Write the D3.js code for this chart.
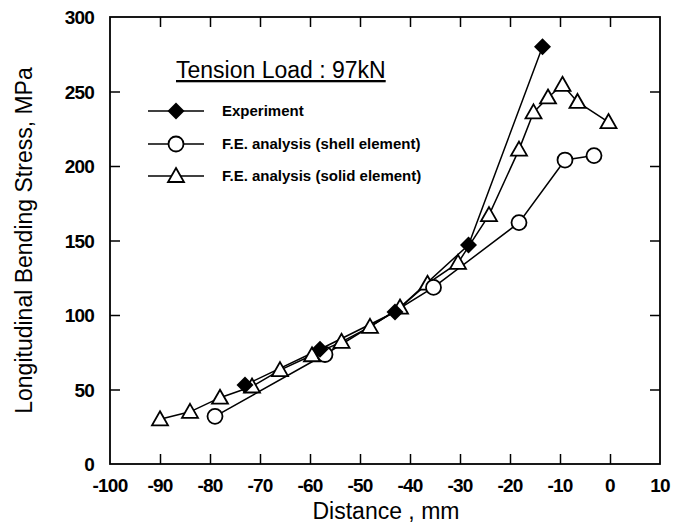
<!DOCTYPE html>
<html>
<head>
<meta charset="utf-8">
<script src="https://cdn.jsdelivr.net/npm/d3@7"></script>
<style>
  body { margin: 0; background: #fff; }
  svg { display: block; font-family: "Liberation Sans", Arial, sans-serif; }
</style>
</head>
<body>
<div id="chart"></div>
<script>
const xTicks = [-100, -90, -80, -70, -60, -50, -40, -30, -20, -10, 0, 10];
const yTicks = [0, 50, 100, 150, 200, 250, 300];

const expX = [-73, -58, -43, -28.3, -13.5];
const expY = [53, 77, 102, 147, 280];

const shellX = [-79, -57, -35.3, -18.2, -9, -3.2];
const shellY = [32, 73.5, 118.5, 162, 204, 207];

const solidX = [-90, -84, -78, -71.6, -66, -59.6, -53.7, -48, -42, -36.5, -30.4, -24.2, -18.2, -15.3, -12.4, -9.5, -6.5, -0.3];
const solidY = [30, 35, 44.5, 52, 63, 73, 82, 92, 105, 121, 135, 167, 211, 236, 246, 254.5, 243, 229.5];

const legendLabels = ['Experiment', 'F.E. analysis (shell element)', 'F.E. analysis (solid element)'];
const title = 'Tension Load : 97kN';

const fullWidth = 673;
const fullHeight = 525;
const margin = { top: 17, right: 13, bottom: 61, left: 110 };

const svg = d3.select('#chart')
  .append('svg')
  .attr('width', fullWidth)
  .attr('height', fullHeight);

const x = d3.scaleLinear().domain([-100, 10]).range([margin.left, fullWidth - margin.right]);
const y = d3.scaleLinear().domain([0, 300]).range([fullHeight - margin.bottom, margin.top]);

// frame
svg.append('rect')
  .attr('x', x(-100)).attr('y', y(300))
  .attr('width', x(10) - x(-100)).attr('height', y(0) - y(300))
  .attr('fill', 'none').attr('stroke', '#000').attr('stroke-width', 1.8);

// axes, ticks pointing inward
const inner = xTicks.filter(d => d > -100 && d < 10);
const innerY = yTicks.filter(d => d > 0 && d < 300);

const xAxis = svg.append('g')
  .attr('transform', `translate(0, ${y(0)})`)
  .call(d3.axisTop(x).tickValues(inner).tickSize(10).tickFormat(''));
const xTop = svg.append('g')
  .attr('transform', `translate(0, ${y(300)})`)
  .call(d3.axisBottom(x).tickValues(inner).tickSize(10).tickFormat(''));
const yAxis = svg.append('g')
  .attr('transform', `translate(${x(-100)}, 0)`)
  .call(d3.axisRight(y).tickValues(innerY).tickSize(10).tickFormat(''));
const yRight = svg.append('g')
  .attr('transform', `translate(${x(10)}, 0)`)
  .call(d3.axisLeft(y).tickValues(innerY).tickSize(10).tickFormat(''));

[xAxis, xTop, yAxis, yRight].forEach(g => {
  g.select('.domain').remove();
  g.selectAll('line').attr('stroke', '#000').attr('stroke-width', 1.5);
});

// tick labels
svg.append('g').selectAll('text')
  .data(xTicks)
  .join('text')
  .attr('x', d => x(d))
  .attr('y', y(0) + 28)
  .attr('text-anchor', 'middle')
  .attr('font-size', 19)
  .attr('font-weight', 'bold')
  .attr('letter-spacing', -0.8)
  .text(d => d);

svg.append('g').selectAll('text')
  .data(yTicks)
  .join('text')
  .attr('x', x(-100) - 16)
  .attr('y', d => y(d) + 7)
  .attr('text-anchor', 'end')
  .attr('font-size', 19)
  .attr('font-weight', 'bold')
  .attr('letter-spacing', -0.8)
  .text(d => d);

svg.append('text')
  .attr('x', (x(-100) + x(10)) / 2 + 1)
  .attr('y', 519)
  .attr('text-anchor', 'middle')
  .attr('font-size', 23)
  .text('Distance , mm');

svg.append('text')
  .attr('transform', `translate(32, ${(y(0) + y(300)) / 2}) rotate(-90)`)
  .attr('text-anchor', 'middle')
  .attr('font-size', 23)
  .text('Longitudinal Bending Stress, MPa');

// series
const line = d3.line().x(d => x(d[0])).y(d => y(d[1]));
const exp = d3.zip(expX, expY);
const shell = d3.zip(shellX, shellY);
const solid = d3.zip(solidX, solidY);

function drawLine(data) {
  svg.append('path')
    .datum(data)
    .attr('d', line)
    .attr('fill', 'none')
    .attr('stroke', '#000')
    .attr('stroke-width', 1.5);
}
drawLine(solid);
drawLine(shell);
drawLine(exp);

const triangle = 'M0,-8L8,6L-8,6Z';
const diamond = 'M0,-8.5L8.5,0L0,8.5L-8.5,0Z';

function drawTriangle(g, px, py) {
  g.append('path').attr('d', triangle)
    .attr('transform', `translate(${px},${py})`)
    .attr('fill', '#fff').attr('stroke', '#000').attr('stroke-width', 1.8);
}
function drawCircle(g, px, py) {
  g.append('circle').attr('cx', px).attr('cy', py).attr('r', 7.5)
    .attr('fill', '#fff').attr('stroke', '#000').attr('stroke-width', 1.8);
}
function drawDiamond(g, px, py) {
  g.append('path').attr('d', diamond)
    .attr('transform', `translate(${px},${py})`)
    .attr('fill', '#000');
}

const marks = svg.append('g');
solid.forEach(d => drawTriangle(marks, x(d[0]), y(d[1])));
shell.forEach(d => drawCircle(marks, x(d[0]), y(d[1])));
exp.forEach(d => drawDiamond(marks, x(d[0]), y(d[1])));

// legend
svg.append('text')
  .attr('x', 176)
  .attr('y', 78)
  .attr('font-size', 23)
  .attr('text-decoration', 'underline')
  .text(title);

const legendY = [111, 144, 176];
const drawers = [drawDiamond, drawCircle, drawTriangle];
legendLabels.forEach((label, i) => {
  const ly = legendY[i];
  svg.append('line')
    .attr('x1', 148).attr('x2', 204)
    .attr('y1', ly).attr('y2', ly)
    .attr('stroke', '#000').attr('stroke-width', 1.5);
  drawers[i](svg, 176, ly);
  svg.append('text')
    .attr('x', 222)
    .attr('y', ly + 5)
    .attr('font-size', 15)
    .attr('font-weight', 'bold')
    .text(label);
});
</script>
</body>
</html>
